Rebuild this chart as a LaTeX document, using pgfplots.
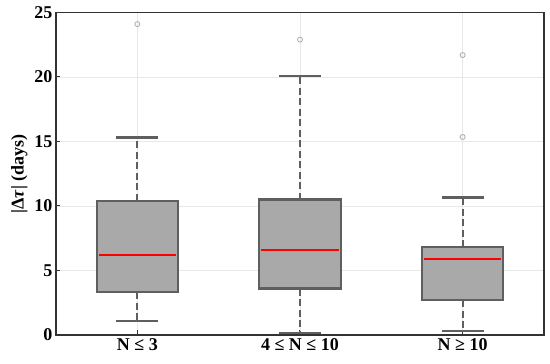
\documentclass[border=0pt]{standalone}
\usepackage{fontspec}
\setmainfont{Liberation Serif}
\usepackage{pgfplots}
\pgfplotsset{compat=1.18}
\usepgfplotslibrary{statistics}
\definecolor{boxfill}{HTML}{A9A9A9}
\definecolor{boxedge}{HTML}{5F5F5F}
\definecolor{gridc}{HTML}{E8E8E8}
\definecolor{outc}{HTML}{AAAAAA}
\definecolor{axc}{HTML}{333333}
\begin{document}
\begin{tikzpicture}
\begin{axis}[
  scale only axis, width=488pt, height=322.5pt,
  xmin=0.5, xmax=3.5, ymin=0, ymax=25,
  xtick={1,2,3}, xticklabels={N ≤ 3, 4 ≤ N ≤ 10, N ≥ 10},
  ytick={0,5,...,25},
  grid=major, major grid style={gridc, line width=0.9pt},
  axis line style={axc, line width=1.6pt},
  tick style={axc, line width=1pt},
  tick align=inside, major tick length=4.5pt,
  xtick pos=left, ytick pos=left,
  /pgf/number format/assume math mode=true,
  ticklabel style={font=\fontsize{18}{20}\selectfont\bfseries},
  ylabel={|Δ\textit{τ}| (days)},
  label style={font=\fontsize{18}{20}\selectfont\bfseries},
  boxplot/draw direction=y,
  boxplot/box extend=0.5,
  boxplot/whisker extend=0.26,
  boxplot/draw/box/.code={%
    \draw[fill=boxfill, draw=boxedge, line width=2.2pt]
      (boxplot box cs:\pgfplotsboxplotvalue{lower quartile},0) rectangle
      (boxplot box cs:\pgfplotsboxplotvalue{upper quartile},1);},
  boxplot/draw/median/.code={%
    \draw[red, line width=2.6pt]
      (boxplot box cs:\pgfplotsboxplotvalue{median},0.025) --
      (boxplot box cs:\pgfplotsboxplotvalue{median},0.975);},
  boxplot/draw/lower whisker/.code={%
    \draw[boxedge, line width=2.2pt, dash pattern=on 7pt off 3.5pt]
      (boxplot box cs:\pgfplotsboxplotvalue{lower quartile},0.5) --
      (boxplot box cs:\pgfplotsboxplotvalue{lower whisker},0.5);
    \draw[boxedge, line width=2.4pt]
      (boxplot whisker cs:\pgfplotsboxplotvalue{lower whisker},0) --
      (boxplot whisker cs:\pgfplotsboxplotvalue{lower whisker},1);},
  boxplot/draw/upper whisker/.code={%
    \draw[boxedge, line width=2.2pt, dash pattern=on 7pt off 3.5pt]
      (boxplot box cs:\pgfplotsboxplotvalue{upper quartile},0.5) --
      (boxplot box cs:\pgfplotsboxplotvalue{upper whisker},0.5);
    \draw[boxedge, line width=2.4pt]
      (boxplot whisker cs:\pgfplotsboxplotvalue{upper whisker},0) --
      (boxplot whisker cs:\pgfplotsboxplotvalue{upper whisker},1);},
]
\addplot[outc, mark=o, mark size=2.5pt, line width=0.8pt,
  boxplot prepared={draw position=1, lower whisker=1.1, lower quartile=3.33,
    median=6.2, upper quartile=10.4, upper whisker=15.3}]
  table[row sep=\\, y index=0] {24.1\\};
\addplot[outc, mark=o, mark size=2.5pt, line width=0.8pt,
  boxplot prepared={draw position=2, lower whisker=0.15, lower quartile=3.6,
    median=6.6, upper quartile=10.5, upper whisker=20.1}]
  table[row sep=\\, y index=0] {22.9\\};
\addplot[outc, mark=o, mark size=2.5pt, line width=0.8pt,
  boxplot prepared={draw position=3, lower whisker=0.33, lower quartile=2.7,
    median=5.9, upper quartile=6.8, upper whisker=10.67}]
  table[row sep=\\, y index=0] {21.7\\15.35\\};
\end{axis}
\pgfresetboundingbox
\path (current axis.south west) ++(-56pt,-29pt) rectangle ++(550pt,364pt);
\end{tikzpicture}
\end{document}
